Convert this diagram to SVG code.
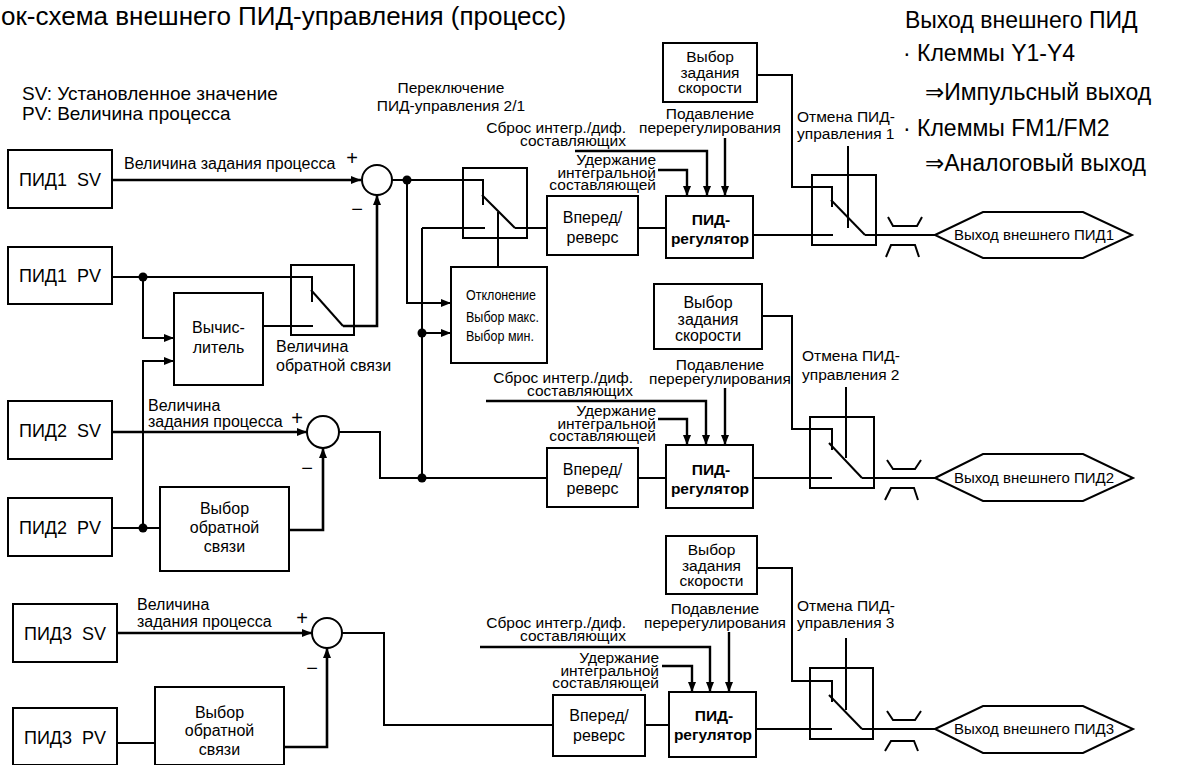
<svg xmlns="http://www.w3.org/2000/svg" width="1177" height="765" viewBox="0 0 1177 765">
<defs>
<style>
text{font-family:"Liberation Sans",Arial,"DejaVu Sans",sans-serif;fill:#000}
.box{fill:#fff;stroke:#000;stroke-width:2}
.sw{fill:none;stroke:#000;stroke-width:2}
.ln{fill:none;stroke:#000;stroke-width:2}
.lb{fill:none;stroke:#000;stroke-width:2.6}
.la{fill:none;stroke:#000;stroke-width:2.4}
.a{marker-end:url(#ah)}
.dot{fill:#000}
.c{text-anchor:middle}
.e{text-anchor:end}
.pre{white-space:pre}
.s15{font-size:15px}
.s155{font-size:15.5px}
.s16{font-size:16px}
.s18{font-size:18px}
.s19{font-size:19px}
.s20{font-size:20px}
.s23{font-size:23px}
.b{font-weight:bold}
</style>
<marker id="ah" markerUnits="userSpaceOnUse" markerWidth="10" markerHeight="8" refX="10" refY="4" orient="auto"><path d="M0,0 L10,4 L0,8 z" fill="#000"/></marker>
</defs>
<rect width="1177" height="765" fill="#fff"/>

<g id="title"><text x="1" y="25" style="font-size:26px">ок-схема внешнего ПИД-управления (процесс)</text></g>
<g id="legend">
<text class="s19" x="22" y="100">SV: Установленное значение</text>
<text class="s19" x="22" y="120">PV: Величина процесса</text>
</g>
<g id="notes">
<text class="s23" x="905" y="28">Выход внешнего ПИД</text>
<text class="s23" x="903" y="61">· Клеммы Y1-Y4</text>
<text class="s23" x="925" y="100">⇒Импульсный выход</text>
<text class="s23" x="903" y="136">· Клеммы FM1/FM2</text>
<text class="s23" x="925" y="171">⇒Аналоговый выход</text>
</g>

<g id="connectors">
<!-- PID1 -->
<path class="lb a" d="M112,180 H361"/>
<path class="ln" d="M392,180 H483 V205"/>
<path class="ln" d="M515,228 H547"/>
<path class="ln" d="M422,228 H485 M422,228 V478"/>
<path class="ln a" d="M422,333 H451"/>
<path class="ln a" d="M407,180 V303 H451"/>
<path class="ln" d="M498,212 V267"/>
<path class="ln" d="M638,228 H666"/>
<path class="ln" d="M753,235 H833"/>
<path class="ln" d="M757,75 H792 V187 H832 V207"/>
<path class="ln" d="M865,235 H935"/>
<path class="ln" d="M848,146 V228"/>
<path class="ln" d="M888,217 L893,226 H917 L922,217 M886,257 L891,245 H915 L919,257"/>
<path class="la a" d="M575,151 H707 V196"/>
<path class="la a" d="M658,170 H687 V196"/>
<path class="la a" d="M725,138 V196"/>
<!-- feedback PID1 -->
<path class="ln" d="M112,277 H312 V302"/>
<path class="ln a" d="M143,277 V338 H174"/>
<path class="ln a" d="M143,528 V361 H174"/>
<path class="ln" d="M263,326 H313"/>
<path class="lb a" d="M343,326 H377 V195"/>
<!-- PID2 -->
<path class="lb a" d="M112,432 H307"/>
<path class="ln" d="M112,528 H160"/>
<path class="lb a" d="M289,530 H323 V448"/>
<path class="ln" d="M339,432 H380 V478 H547"/>
<path class="ln" d="M638,478 H666"/>
<path class="ln" d="M753,478 H832"/>
<path class="ln" d="M762,316 H792 V429 H832 V450"/>
<path class="ln" d="M862,478 H935"/>
<path class="ln" d="M846,387 V458"/>
<path class="ln" d="M887,460 L893,469 H915 L921,460 M885,500 L891,488 H914 L918,500"/>
<path class="la a" d="M486,401 H706 V445"/>
<path class="la a" d="M658,419 H687 V445"/>
<path class="la a" d="M725,388 V445"/>
<!-- PID3 -->
<path class="lb a" d="M117,633 H312"/>
<path class="ln" d="M117,743 H155"/>
<path class="lb a" d="M284,747 H327 V648"/>
<path class="ln" d="M342,633 H384 V725 H553"/>
<path class="ln" d="M645,725 H669"/>
<path class="ln" d="M756,729 H832"/>
<path class="ln" d="M757,568 H792 V681 H832 V702"/>
<path class="ln" d="M862,729 H935"/>
<path class="ln" d="M846,638 V710"/>
<path class="ln" d="M887,711 L893,720 H915 L921,711 M885,751 L891,741 H914 L918,751"/>
<path class="la a" d="M480,647 H710 V692"/>
<path class="la a" d="M662,666 H692 V692"/>
<path class="la a" d="M729,632 V692"/>
<!-- junction dots -->
<circle class="dot" cx="407" cy="180" r="4.5"/>
<circle class="dot" cx="422" cy="333" r="4.5"/>
<circle class="dot" cx="422" cy="478" r="4.5"/>
<circle class="dot" cx="143" cy="277" r="4.5"/>
<circle class="dot" cx="143" cy="528" r="4.5"/>
</g>

<g id="labels">
<text class="s16" x="124" y="169">Величина задания процесса</text>
<text class="s16" x="148" y="411">Величина</text>
<text class="s16" x="148" y="427">задания процесса</text>
<text class="s16" x="137" y="610">Величина</text>
<text class="s16" x="137" y="627">задания процесса</text>
<text class="s16" x="276" y="352">Величина</text>
<text class="s16" x="276" y="371">обратной связи</text>
<text class="s155 c" x="451" y="93">Переключение</text>
<text class="s155 c" x="451" y="111">ПИД-управления 2/1</text>
<text class="s155 c" x="710" y="119">Подавление</text>
<text class="s155 c" x="710" y="133">перерегулирования</text>
<text class="s155 e" x="626" y="133">Сброс интегр./диф.</text>
<text class="s155 e" x="626" y="146">составляющих</text>
<text class="s155 e" x="656" y="165">Удержание</text>
<text class="s155 e" x="656" y="177.5">интегральной</text>
<text class="s155 e" x="656" y="190">составляющей</text>
<text class="s155" x="797" y="122">Отмена ПИД-</text>
<text class="s155" x="797" y="139">управления 1</text>
<text class="s155 c" x="720" y="370">Подавление</text>
<text class="s155 c" x="720" y="384">перерегулирования</text>
<text class="s155 e" x="633" y="383">Сброс интегр./диф.</text>
<text class="s155 e" x="633" y="396">составляющих</text>
<text class="s155 e" x="656" y="416">Удержание</text>
<text class="s155 e" x="656" y="428.5">интегральной</text>
<text class="s155 e" x="656" y="441">составляющей</text>
<text class="s155" x="802" y="361">Отмена ПИД-</text>
<text class="s155" x="802" y="380">управления 2</text>
<text class="s155 c" x="715" y="614">Подавление</text>
<text class="s155 c" x="715" y="628">перерегулирования</text>
<text class="s155 e" x="626" y="628">Сброс интегр./диф.</text>
<text class="s155 e" x="626" y="641">составляющих</text>
<text class="s155 e" x="659" y="663">Удержание</text>
<text class="s155 e" x="659" y="675.5">интегральной</text>
<text class="s155 e" x="659" y="688">составляющей</text>
<text class="s155" x="797" y="611">Отмена ПИД-</text>
<text class="s155" x="797" y="628">управления 3</text>
</g>

<g id="pid1-sv"><rect class="box" x="8" y="150" width="104" height="58"/><text class="s18 c pre" x="60" y="186">ПИД1  SV</text></g>
<g id="pid1-pv"><rect class="box" x="8" y="247" width="104" height="57"/><text class="s18 c pre" x="60" y="282">ПИД1  PV</text></g>
<g id="pid2-sv"><rect class="box" x="8" y="401" width="104" height="58"/><text class="s18 c pre" x="60" y="437">ПИД2  SV</text></g>
<g id="pid2-pv"><rect class="box" x="8" y="498" width="104" height="58"/><text class="s18 c pre" x="60" y="534">ПИД2  PV</text></g>
<g id="pid3-sv"><rect class="box" x="13" y="604" width="104" height="58"/><text class="s18 c pre" x="65" y="640">ПИД3  SV</text></g>
<g id="pid3-pv"><rect class="box" x="13" y="708" width="104" height="57"/><text class="s18 c pre" x="65" y="744">ПИД3  PV</text></g>

<g id="sum1"><circle class="sw" cx="377" cy="180" r="15"/><text class="s20 c" x="352" y="165">+</text><text class="s20 c" x="357" y="216">−</text></g>
<g id="sum2"><circle class="sw" cx="323" cy="432" r="16"/><text class="s20 c" x="297" y="425">+</text><text class="s20 c" x="307" y="475">−</text></g>
<g id="sum3"><circle class="sw" cx="327" cy="633" r="15"/><text class="s20 c" x="302" y="625">+</text><text class="s20 c" x="312" y="675">−</text></g>

<g id="calc"><rect class="box" x="174" y="293" width="89" height="92"/><text class="s16 c" x="218.5" y="333">Вычис-</text><text class="s16 c" x="218.5" y="353">литель</text></g>
<g id="fb-switch1"><rect class="sw" x="291" y="265" width="63" height="70"/><path class="ln" d="M311,290 L343,326"/></g>
<g id="fb-select2"><rect class="box" x="160" y="487" width="129" height="84"/><text class="s16 c" x="224.5" y="514">Выбор</text><text class="s16 c" x="224.5" y="533">обратной</text><text class="s16 c" x="224.5" y="552">связи</text></g>
<g id="fb-select3"><rect class="box" x="155" y="687" width="129" height="78"/><text class="s16 c" x="219.5" y="718">Выбор</text><text class="s16 c" x="219.5" y="736">обратной</text><text class="s16 c" x="219.5" y="755">связи</text></g>

<g id="switch21"><rect class="sw" x="463" y="168" width="64" height="70"/><path class="ln" d="M482,195 L515,228"/></g>
<g id="deviation"><rect class="box" x="451" y="267" width="96" height="96"/>
<text class="s15" x="466" y="300" textLength="70" lengthAdjust="spacingAndGlyphs">Отклонение</text>
<text class="s15" x="466" y="322" textLength="73" lengthAdjust="spacingAndGlyphs">Выбор макс.</text>
<text class="s15" x="466" y="341" textLength="68" lengthAdjust="spacingAndGlyphs">Выбор мин.</text></g>

<g id="fwdrev1"><rect class="box" x="547" y="196" width="91" height="59"/><text class="s16 c" x="592.5" y="223">Вперед/</text><text class="s16 c" x="592.5" y="243">реверс</text></g>
<g id="fwdrev2"><rect class="box" x="547" y="448" width="91" height="59"/><text class="s16 c" x="592.5" y="475">Вперед/</text><text class="s16 c" x="592.5" y="494">реверс</text></g>
<g id="fwdrev3"><rect class="box" x="553" y="695" width="92" height="61"/><text class="s16 c" x="599" y="721">Вперед/</text><text class="s16 c" x="599" y="741">реверс</text></g>

<g id="pidreg1"><rect class="box" x="666" y="196" width="87" height="62"/><text class="s155 c b" x="711" y="225">ПИД-</text><text class="s155 c b" x="710" y="244">регулятор</text></g>
<g id="pidreg2"><rect class="box" x="666" y="445" width="87" height="63"/><text class="s155 c b" x="711" y="475">ПИД-</text><text class="s155 c b" x="710" y="494">регулятор</text></g>
<g id="pidreg3"><rect class="box" x="669" y="692" width="87" height="65"/><text class="s155 c b" x="714" y="721">ПИД-</text><text class="s155 c b" x="713" y="740">регулятор</text></g>

<g id="speed1"><rect class="box" x="663" y="43" width="94" height="59"/><text class="s155 c" x="710" y="62">Выбор</text><text class="s155 c" x="710" y="77.5">задания</text><text class="s155 c" x="710" y="93">скорости</text></g>
<g id="speed2"><rect class="box" x="654" y="284" width="108" height="65"/><text class="s16 c" x="708" y="308">Выбор</text><text class="s16 c" x="708" y="325">задания</text><text class="s16 c" x="708" y="341">скорости</text></g>
<g id="speed3"><rect class="box" x="666" y="536" width="91" height="58"/><text class="s155 c" x="711.5" y="555">Выбор</text><text class="s155 c" x="711.5" y="570.5">задания</text><text class="s155 c" x="711.5" y="586">скорости</text></g>

<g id="out-switch1"><rect class="sw" x="812" y="175" width="64" height="70"/><path class="ln" d="M831,200 L865,235"/></g>
<g id="out-switch2"><rect class="sw" x="810" y="417" width="64" height="71"/><path class="ln" d="M829,443 L862,478"/></g>
<g id="out-switch3"><rect class="sw" x="810" y="668" width="63" height="71"/><path class="ln" d="M829,695 L862,729"/></g>

<g id="out1"><polygon class="box" points="935,235 983,212 1083,212 1132,235 1083,258 983,258"/><text class="s15 c" x="1034" y="240">Выход внешнего ПИД1</text></g>
<g id="out2"><polygon class="box" points="935,478 983,454 1083,454 1133,478 1083,501 983,501"/><text class="s15 c" x="1034" y="483">Выход внешнего ПИД2</text></g>
<g id="out3"><polygon class="box" points="935,729 983,706 1083,706 1133,729 1083,753 983,753"/><text class="s15 c" x="1034" y="734">Выход внешнего ПИД3</text></g>
</svg>
